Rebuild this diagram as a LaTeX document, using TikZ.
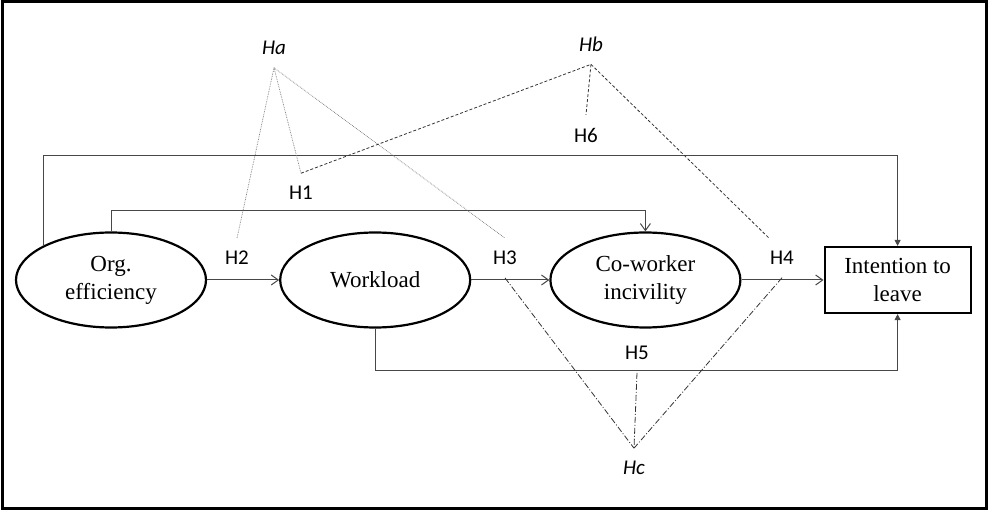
\documentclass[tikz,border=0pt]{standalone}
\usepackage{fontspec}
\setmainfont{Liberation Serif}
\newfontfamily\hypfont{Carlito}
\usetikzlibrary{positioning, shapes.geometric, arrows.meta}

\begin{document}
\begin{tikzpicture}[x=1pt, y=-1pt,
	latent/.style={ellipse, draw, line width=2.2pt, minimum width=190pt, minimum height=95pt, inner sep=2pt, align=center, font=\fontsize{23}{28}\selectfont},
	outcome/.style={rectangle, draw, line width=2.2pt, minimum width=146pt, minimum height=66pt, inner sep=2pt, align=center, font=\fontsize{23}{28}\selectfont},
	hyp/.style={inner sep=1pt, outer sep=12pt, font=\hypfont\fontsize{21}{25}\selectfont},
	link/.style={draw=black!72, line width=1pt},
	hypa/.style={draw=black!55, line width=0.7pt, densely dotted},
	hypb/.style={draw=black!80, line width=0.8pt, dash pattern=on 3pt off 2pt},
	hypc/.style={draw=black!80, line width=0.8pt, dash pattern=on 6pt off 2pt on 1pt off 2pt}]
			\useasboundingbox (0,0) rectangle (989,518);
			\draw[line width=3pt] (2.5,2) rectangle (986,509);
			\node (org) [latent] at (111,280) {Org.\\efficiency};
			\node (work) [latent, right=72pt of org] {Workload};
			\node (cow) [latent, right=78pt of work] {Co-worker\\incivility};
			\node (int) [outcome, right=82pt of cow] {Intention to\\leave};
			\node (h1) [hyp] at (301,193) {H1};
			\node (h2) [hyp] at (237,258) {H2};
			\node (h3) [hyp] at (505,258) {H3};
			\node (h4) [hyp] at (782,258) {H4};
			\node (h5) [hyp] at (637,353) {H5};
			\node (h6) [hyp] at (586,135) {H6};
			\node (ha) [hyp] at (274,48) {\itshape Ha};
			\node (hb) [hyp] at (591,44) {\itshape Hb};
			\node (hc) [hyp] at (634,468) {\itshape Hc};
			\draw[link, -{Straight Barb[length=7pt, width=10pt]}] (org) -- (work);
			\draw[link, -{Straight Barb[length=7pt, width=10pt]}] (work) -- (cow);
			\draw[link, -{Straight Barb[length=7pt, width=10pt]}] (cow) -- (int);
			\draw[link, -{Triangle[length=6pt, width=6pt]}] (org.153) -- ++(0,-90) -| (int.north);
			\draw[link, -{Straight Barb[length=7pt, width=10pt]}] (org.north) -- ++(0,-21) -| (cow.north);
			\draw[link, -{Triangle[length=6pt, width=6pt]}] (work.south) -- ++(0,42) -| (int.south);
			\draw[hypa] (ha.south) -- (h2.north);
			\draw[hypa] (ha.south) -- (h1.north);
			\draw[hypa] (ha.south) -- (h3.north);
			\draw[hypb] (h1.north) -- (hb.south);
			\draw[hypb] (hb.south) -- (h6.north);
			\draw[hypb] (hb.south) -- (h4.123);
			\draw[hypc] (h3.south) -- (hc.north);
			\draw[hypc] (h5.south) -- (hc.north);
			\draw[hypc] (h4.south) -- (hc.north);
		\end{tikzpicture}
\end{document}
